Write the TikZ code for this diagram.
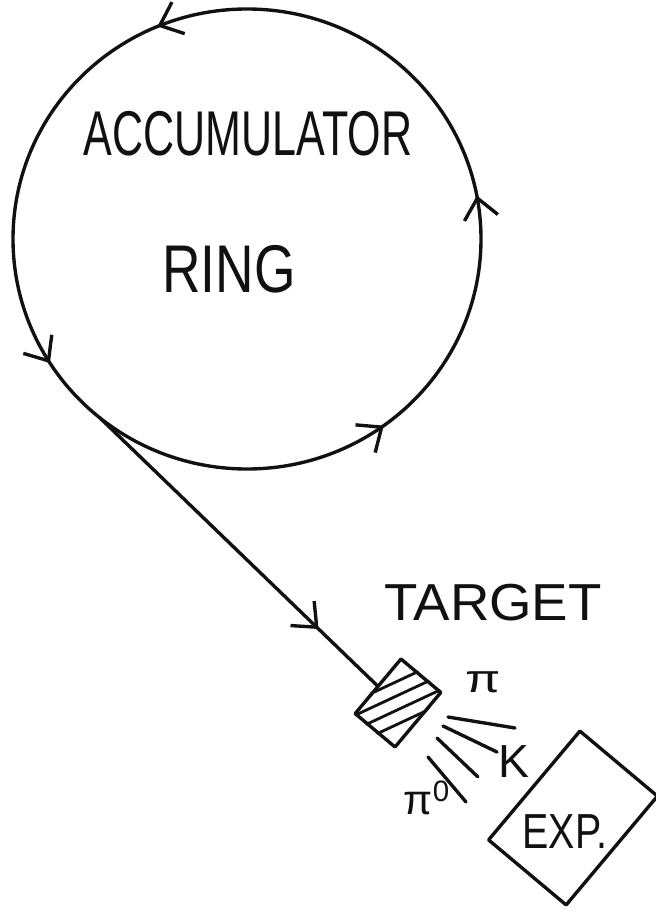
\documentclass[tikz,border=0pt]{standalone}
\usepackage{fontspec}
\setmainfont{Liberation Sans}
\usepackage{tikz}
\usetikzlibrary{arrows.meta,positioning,calc,decorations.markings}
\definecolor{ink}{HTML}{111111}
\tikzset{
    every picture/.style={line cap=round,line join=round},
    penline/.style={draw=ink,line width=2.4pt},
    hatchline/.style={draw=ink,line width=2pt},
    midarrow/.style={postaction={decorate,decoration={markings,
      mark=at position #1 with {\arrow{Straight Barb[length=5mm,width=8.5mm]}}}}},
    targetbox/.style={draw=ink,line width=2.4pt,minimum width=1.3cm,
      minimum height=1.78cm,inner sep=0pt,rotate=-40},
    expbox/.style={draw=ink,line width=2.4pt,minimum width=2.53cm,
      minimum height=3.55cm,inner sep=0pt,rotate=-40},
    handtext/.style={text=ink,inner sep=0pt}
}

\begin{document}
\begin{tikzpicture}[x=0.025cm,y=-0.025cm]
  \useasboundingbox (0,0) rectangle (656,912);
  % the ring
  \coordinate (ringc) at (247,239);
  \draw[penline,midarrow=0.03,midarrow=0.313,midarrow=0.59,midarrow=0.85]
    ($(ringc)+(234,0)$) arc[start angle=0,end angle=-360,x radius=234,y radius=230];
  \coordinate (exit) at ($(ringc)+(129:234 and 230)$);
  \node[handtext,font=\fontsize{45}{50}\selectfont,xscale=0.68] (acc) at (248,134) {ACCUMULATOR};
  \node[handtext,font=\fontsize{48}{52}\selectfont,xscale=0.79] (ring) at (229,269) {RING};
  % target
  \node[targetbox] (tgt) at (398,703) {};
  \begin{scope}
    \clip (tgt.north west) -- (tgt.north east) -- (tgt.south east) -- (tgt.south west) -- cycle;
    \foreach \d in {-20,-7,6,19}
      \draw[hatchline] ($(tgt.center)+(65:\d)+(-25:-50)$) -- ($(tgt.center)+(65:\d)+(-25:50)$);
  \end{scope}
  \draw[penline,midarrow=0.79] (exit) -- (tgt.west);
  \node[handtext,font=\fontsize{37}{40}\selectfont,xscale=1.05] (tlabel) at (493,603) {TARGET};
  % secondaries
  \draw[penline] ($(tgt.center)+(50,14)$) -- ($(tgt.center)+(117,25)$);
  \draw[penline] ($(tgt.center)+(45,23)$) -- ($(tgt.center)+(99,49)$);
  \draw[penline] ($(tgt.center)+(39,35)$) -- ($(tgt.center)+(80,74)$);
  \draw[penline] ($(tgt.center)+(30,54)$) -- ($(tgt.center)+(68,99)$);
  \node[handtext,font=\fontsize{28}{30}\selectfont,xscale=1.3] (pi) at (483,682) {π};
  \node[handtext,font=\fontsize{33}{36}\selectfont] (kaon) at (514,762) {K};
  \node[handtext,font=\fontsize{30}{32}\selectfont] (pizero) at (427,798) {π\textsuperscript{0}};
  % experiment
  \node[expbox] (exp) at (573,818) {};
  \node[handtext,font=\fontsize{35}{38}\selectfont,xscale=0.8] (explabel) at (565,832) {EXP.};
\end{tikzpicture}
\end{document}
